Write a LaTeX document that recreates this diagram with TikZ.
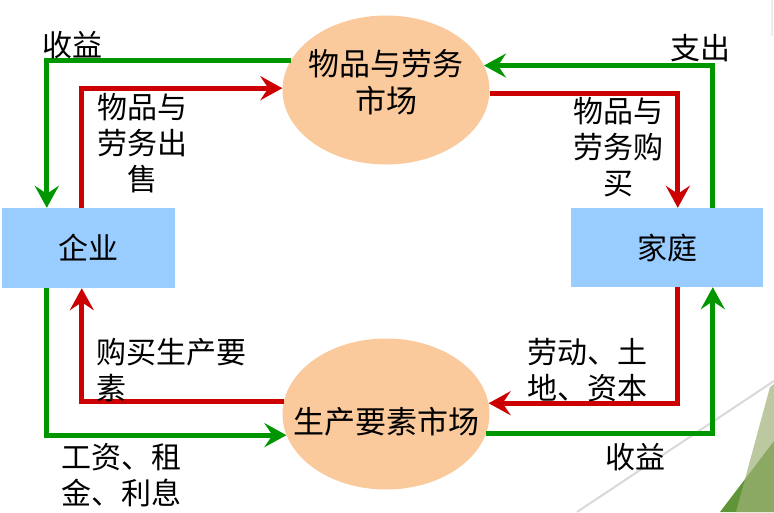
\documentclass[tikz,border=0pt]{standalone}
\usepackage{fontspec}
\newfontfamily\cjk{Noto Sans CJK SC}
\usetikzlibrary{arrows.meta,shapes.geometric}

\definecolor{flowgreen}{RGB}{0,150,0}
\definecolor{flowred}{RGB}{204,0,0}
\definecolor{marketfill}{RGB}{250,201,156}
\definecolor{sectorfill}{RGB}{153,204,255}
\definecolor{leafgreen}{RGB}{95,148,55}
\definecolor{leafolive}{RGB}{160,178,120}

\tikzset{
  market/.style={ellipse, fill=marketfill, minimum width=207pt, minimum height=149pt, inner sep=0pt},
  marketlabel/.style={inner sep=0pt, align=center, font=\cjk\fontsize{31}{37}\selectfont},
  sector/.style={rectangle, fill=sectorfill, inner sep=0pt, font=\cjk\fontsize{30}{37}\selectfont},
  flowlabel/.style={inner sep=0pt, font=\cjk\fontsize{30}{36}\selectfont},
  flowtip/.style={-{Stealth[length=22pt,width=24pt,inset=8pt]}},
  greenflow/.style={draw=flowgreen, line width=5pt, flowtip},
  redflow/.style={draw=flowred, line width=5pt, flowtip}
}

\begin{document}
\begin{tikzpicture}[x=1pt, y=-1pt]
  \useasboundingbox (0,0) rectangle (774,512);
  \fill[white] (0,0) rectangle (774,512);

  % slide decoration, bottom right
  \draw[gray!30, line width=2pt] (577,512) -- (774,381);
  \draw[gray!15, line width=2pt] (772,0) -- (772,36);
  \fill[leafgreen] (720,512) -- (774,441) -- (774,512) -- cycle;
  \fill[leafolive, opacity=0.7] (736,512) -- (770,387) -- (774,384) -- (774,512) -- cycle;

  % markets and sectors
  \node[market, label={[marketlabel, yshift=8pt]center:物品与劳务\\市场}] (goods) at (386,90) {};
  \node[market, minimum height=151pt, label={[marketlabel, yshift=-8pt]center:生产要素市场}] (factor) at (386,414) {};
  \node[sector, minimum width=173pt, minimum height=80pt] (firm) at (88.5,248) {企业};
  \node[sector, minimum width=192pt, minimum height=79pt] (home) at (667,247.5) {家庭};

  % goods market flows
  \draw[greenflow] (goods.163) -| ([xshift=45pt]firm.north west);
  \draw[redflow] ([xshift=80pt]firm.north west) |- (goods.179);
  \draw[greenflow] ([xshift=142pt]home.north west) |- (goods.14);
  \draw[redflow] (goods.-2) -| ([xshift=107pt]home.north west);

  % factor market flows
  \draw[redflow] ([xshift=107pt]home.south west) |- (factor.6);
  \draw[greenflow] (factor.-11) -| ([xshift=142pt]home.south west);
  \draw[redflow] (factor.173) -| ([xshift=80pt]firm.south west);
  \draw[greenflow] ([xshift=45pt]firm.south west) |- (factor.192);

  % labels
  \node[flowlabel] (firmrev) at (72,45) {收益};
  \node[flowlabel, align=center] (sell) at (142,143) {物品与\\劳务出\\售};
  \node[flowlabel] (spend) at (700,48) {支出};
  \node[flowlabel, align=center] (buy) at (618,147) {物品与\\劳务购\\买};
  \node[flowlabel, align=left, anchor=west] (inputs) at (96,370) {购买生产要\\素};
  \node[flowlabel, align=left, anchor=west] (wages) at (61,475) {工资、租\\金、利息};
  \node[flowlabel, align=left, anchor=west] (labour) at (527,370) {劳动、土\\地、资本};
  \node[flowlabel] (homerev) at (635,457) {收益};
\end{tikzpicture}
\end{document}
